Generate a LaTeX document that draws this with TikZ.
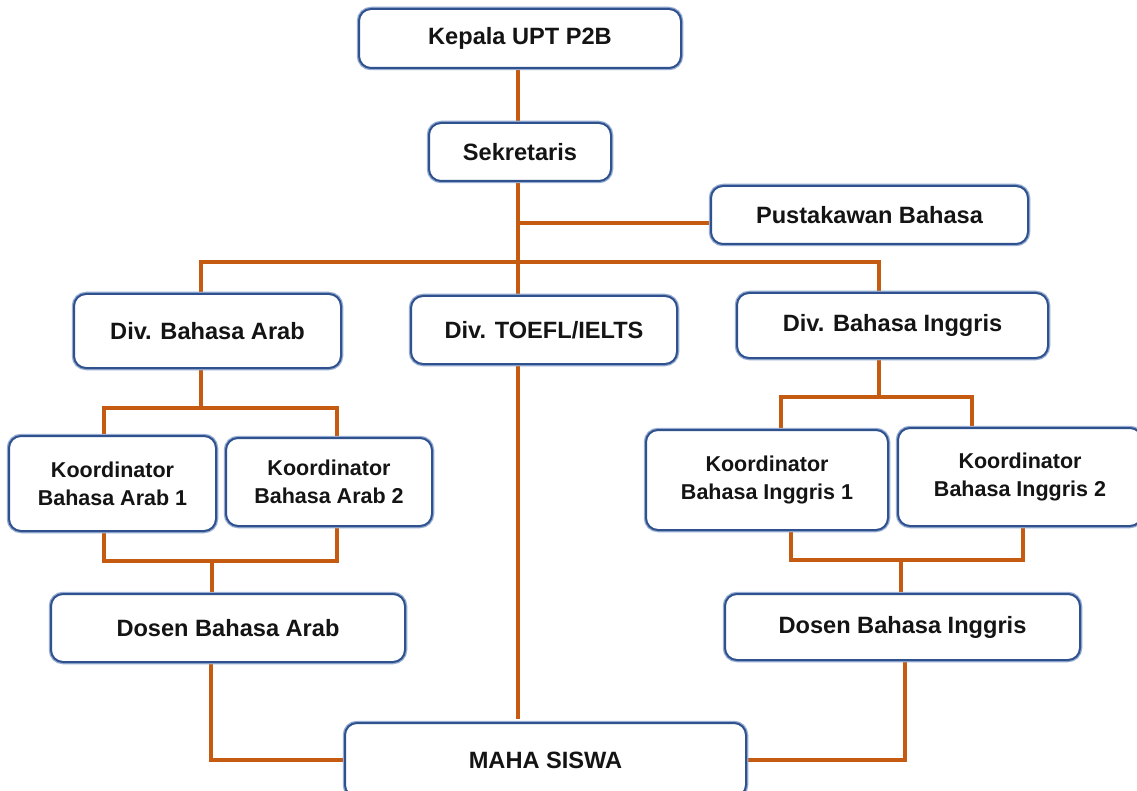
\documentclass[tikz,border=0pt]{standalone}
\usepackage{fontspec}
\setmainfont{Liberation Sans}
\usetikzlibrary{calc}
\definecolor{boxblue}{RGB}{47,82,143}
\definecolor{boxhalo}{RGB}{150,172,210}
\definecolor{lineorange}{RGB}{197,90,17}
\definecolor{txt}{RGB}{20,20,20}
\pgfdeclarelayer{bg}
\pgfsetlayers{bg,main}
\tikzset{
  box/.style={draw=boxblue, line width=2pt, fill=white, rounded corners=12pt,
    preaction={draw=boxhalo, line width=4.5pt},
    inner sep=0pt, align=center, text=txt,
    font=\bfseries\fontsize{23.6}{28}\selectfont},
  kbox/.style={box, font=\bfseries\fontsize{21.5}{27.7}\selectfont},
  conn/.style={draw=lineorange, line width=4pt}
}
\begin{document}
\begin{tikzpicture}[x=1pt,y=-1pt]
\useasboundingbox (0,0) rectangle (1137,791);
\clip (0,0) rectangle (1137,791);

\node[box, minimum width=322pt, minimum height=59pt] (kepala) at (520,38.5) {Kepala UPT P2B};
\node[box, minimum width=182pt, minimum height=58pt] (sek) at (520,152) {Sekretaris};
\node[box, minimum width=317pt, minimum height=58pt] (pust) at (869.5,215) {Pustakawan Bahasa};
\node[box, minimum width=267pt, minimum height=74pt] (darab) at (207.5,331) {Div. Bahasa Arab};
\node[box, minimum width=266pt, minimum height=68pt] (toefl) at (544,330) {Div. TOEFL/IELTS};
\node[box, minimum width=311pt, minimum height=65pt] (dingg) at (892.5,325.5) {Div. Bahasa Inggris};
\node[kbox, minimum width=207pt, minimum height=95pt] (ka1) at (112.5,483.5) {Koordinator\\Bahasa Arab 1};
\node[kbox, minimum width=206pt, minimum height=88pt] (ka2) at (329,482) {Koordinator\\Bahasa Arab 2};
\node[kbox, minimum width=242pt, minimum height=100pt] (ki1) at (767,480) {Koordinator\\Bahasa Inggris 1};
\node[kbox, minimum width=244pt, minimum height=98pt] (ki2) at (1020,477) {Koordinator\\Bahasa Inggris 2};
\node[box, minimum width=354pt, minimum height=68pt] (dosa) at (228,628) {Dosen Bahasa Arab};
\node[box, minimum width=355pt, minimum height=66pt] (dosi) at (902.5,627) {Dosen Bahasa Inggris};
\node[box, minimum width=401pt, minimum height=74pt] (maha) at (545.5,760) {MAHA SISWA};

\coordinate (sp) at (518,182);
\coordinate (j1) at (518,223);
\coordinate (bA) at (201,262);
\coordinate (bI) at (879,262);
\coordinate (a2) at (201,408);
\coordinate (a2l) at (104,408);
\coordinate (a2r) at (337,408);
\coordinate (a3l) at (104,561);
\coordinate (a3r) at (337,561);
\coordinate (a3m) at (212,561);
\coordinate (a4) at (211,760);
\coordinate (i1) at (879,397);
\coordinate (i1l) at (781,397);
\coordinate (i1r) at (972,397);
\coordinate (i2l) at (791,560);
\coordinate (i2r) at (1023,560);
\coordinate (i2m) at (901,560);
\coordinate (i3) at (905,760);

\begin{pgfonlayer}{bg}
\fill[white] (0,0) rectangle (1137,791);
\draw[conn] (sp |- kepala.south) -- (sp |- sek.north);
\draw[conn] (sp |- sek.south) -- (sp |- toefl.north);
\draw[conn] (j1) -- (j1 -| pust.west);
\draw[conn] (bA |- darab.north) -- (bA) -- (bI) -- (bI |- dingg.north);
\draw[conn] (bA |- darab.south) -- (a2);
\draw[conn] (a2l |- ka1.north) -- (a2l) -- (a2r) -- (a2r |- ka2.north);
\draw[conn] (a3l |- ka1.south) -- (a3l) -- (a3r) -- (a3r |- ka2.south);
\draw[conn] (a3m) -- (a3m |- dosa.north);
\draw[conn] (a4 |- dosa.south) -- (a4) -- (a4 -| maha.west);
\draw[conn] (sp |- toefl.south) -- ($(sp |- maha.north)+(0,-3)$);
\draw[conn] (bI |- dingg.south) -- (i1);
\draw[conn] (i1l |- ki1.north) -- (i1l) -- (i1r) -- (i1r |- ki2.north);
\draw[conn] (i2l |- ki1.south) -- (i2l) -- (i2r) -- (i2r |- ki2.south);
\draw[conn] (i2m) -- (i2m |- dosi.north);
\draw[conn] (i3 |- dosi.south) -- (i3) -- (i3 -| maha.east);
\end{pgfonlayer}
\end{tikzpicture}
\end{document}
